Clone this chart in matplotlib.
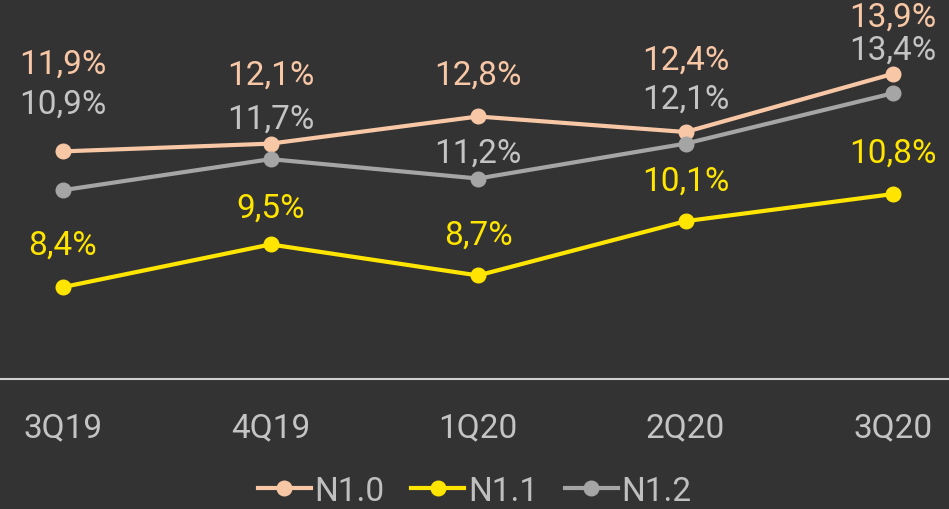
import numpy as np
import matplotlib
matplotlib.use('Agg')
import matplotlib.pyplot as plt

quarters = ["3Q19", "4Q19", "1Q20", "2Q20", "3Q20"]
n10 = [11.9, 12.1, 12.8, 12.4, 13.9]
n11 = [8.4, 9.5, 8.7, 10.1, 10.8]
n12 = [10.9, 11.7, 11.2, 12.1, 13.4]
series_names = ["N1.0", "N1.1", "N1.2"]

# label offsets in pixels above each point (layout only)
off10 = [88, 69, 42, 72, 57]
off11 = [42, 37, 41, 41, 41]
off12 = [87, 40, 26, 45, 44]

bg = "#333333"
colors = ["#F8C7A6", "#FFE500", "#A5A5A5"]
label_colors = ["#F8C7A6", "#FFE500", "#C4C4C4"]

plt.rcParams['font.family'] = ['Roboto', 'DejaVu Sans']

fig = plt.figure(figsize=(9.49, 5.10), dpi=100, facecolor=bg)
ax = fig.add_axes([0, 130 / 510, 1, 380 / 510], facecolor=bg)

x = np.arange(len(quarters))
for vals, c, lc, offs, nm in zip([n10, n11, n12], colors, label_colors,
                                  [off10, off11, off12], series_names):
    ax.plot(x, vals, color=c, lw=3, marker='o', ms=10.5, label=nm, zorder=3)
    for xi, v, o in zip(x, vals, offs):
        ax.annotate(f"{v:.1f}%".replace(".", ","), (xi, v), xytext=(0, o * 0.72),
                    textcoords='offset points', ha='center', va='center',
                    color=lc, fontsize=24)

ax.set_xlim(-63 / 207.5, 4 + 56 / 207.5)
ax.set_ylim(6.03, 15.83)
ax.set_yticks([])
ax.set_xticks(x)
ax.set_xticklabels(quarters, fontsize=24, color="#C4C4C4")
ax.tick_params(axis='x', length=0, pad=23)
for s in ['top', 'right', 'left']:
    ax.spines[s].set_visible(False)
ax.spines['bottom'].set_color("#D0D0D0")
ax.spines['bottom'].set_linewidth(1.5)

leg = fig.legend(loc='lower center', bbox_to_anchor=(0.5, -0.055), ncol=3, frameon=False,
                 fontsize=24, handlelength=1.6, handletextpad=0.1, columnspacing=0.8)
for t in leg.get_texts():
    t.set_color("#BFBFBF")

fig.savefig("out.png", dpi=100, facecolor=bg)
